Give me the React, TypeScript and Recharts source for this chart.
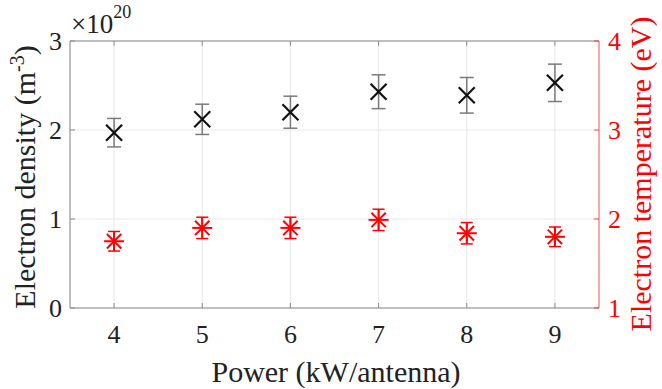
import React from 'react';
import { ComposedChart, Scatter, XAxis, YAxis, CartesianGrid, ErrorBar, Label, ReferenceLine } from 'recharts';

const powers = [4, 5, 6, 7, 8, 9];
const density = [1.97, 2.12, 2.2, 2.43, 2.39, 2.53];
const densityErr = [0.16, 0.17, 0.18, 0.19, 0.2, 0.21];
const temperature = [1.75, 1.9, 1.9, 1.99, 1.84, 1.8];
const temperatureErr = [0.11, 0.12, 0.12, 0.12, 0.12, 0.11];
const densityTicks = [0, 1, 2, 3];
const temperatureTicks = [1, 2, 3, 4];

const densityData = powers.map((p, i) => ({ x: p, y: density[i], e: densityErr[i] }));
const temperatureData = powers.map((p, i) => ({ x: p, y: temperature[i], e: temperatureErr[i] }));

const FONT = "'Liberation Serif', 'Times New Roman', serif";
const DARK = '#222222';
const AXIS = '#8a8a8a';
const RED = '#ff0000';
const DENSITY_MAX = densityTicks[densityTicks.length - 1];

const BottomTick = (props: any) => {
  const { x, y, payload } = props;
  return (
    <g>
      <line x1={x} y1={y} x2={x} y2={y - 5} stroke={AXIS} strokeWidth={1} />
      <text x={x} y={y + 35} textAnchor="middle" fontFamily={FONT} style={{ fontSize: 26 }} fill={DARK}>
        {payload.value}
      </text>
    </g>
  );
};

const LeftTick = (props: any) => {
  const { x, y, payload } = props;
  return (
    <g>
      <line x1={x} y1={y} x2={x + 5} y2={y} stroke={AXIS} strokeWidth={1} />
      <text x={x - 8} y={y + 9} textAnchor="end" fontFamily={FONT} style={{ fontSize: 26 }} fill={DARK}>
        {payload.value}
      </text>
    </g>
  );
};

const RightTick = (props: any) => {
  const { x, y, payload } = props;
  return (
    <g>
      <line x1={x} y1={y} x2={x - 5} y2={y} stroke={RED} strokeWidth={1} opacity={0.7} />
      <text x={x + 9} y={y + 9} textAnchor="start" fontFamily={FONT} style={{ fontSize: 26 }} fill={RED}>
        {payload.value}
      </text>
    </g>
  );
};

const XMark = (props: any) => {
  const { cx, cy } = props;
  const s = 8;
  return (
    <g stroke="#111" strokeWidth={2.2}>
      <line x1={cx - s} y1={cy - s} x2={cx + s} y2={cy + s} />
      <line x1={cx - s} y1={cy + s} x2={cx + s} y2={cy - s} />
    </g>
  );
};

const StarMark = (props: any) => {
  const { cx, cy } = props;
  const s = 10;
  const d = 7.2;
  return (
    <g stroke={RED} strokeWidth={2}>
      <line x1={cx - s} y1={cy} x2={cx + s} y2={cy} />
      <line x1={cx} y1={cy - s} x2={cx} y2={cy + s} />
      <line x1={cx - d} y1={cy - d} x2={cx + d} y2={cy + d} />
      <line x1={cx - d} y1={cy + d} x2={cx + d} y2={cy - d} />
    </g>
  );
};

const xLabel = () => (
  <text x={336} y={382} textAnchor="middle" fontFamily={FONT} style={{ fontSize: 30 }} fill={DARK}>
    Power (kW/antenna)
  </text>
);

const leftLabel = () => (
  <text x={35} y={177} transform="rotate(-90, 35, 177)" textAnchor="middle" fontFamily={FONT} style={{ fontSize: 30 }} fill={DARK}>
    <tspan>Electron density (m</tspan>
    <tspan dy={-11} style={{ fontSize: 20 }}>-3</tspan>
    <tspan dy={11}>)</tspan>
  </text>
);

const rightLabel = () => (
  <text x={651} y={174} transform="rotate(-90, 651, 174)" textAnchor="middle" fontFamily={FONT} style={{ fontSize: 30 }} fill={RED}>
    Electron temperature (eV)
  </text>
);

const scaleLabel = () => (
  <text x={71} y={33} fontFamily={FONT} fill={DARK} style={{ fontSize: 27 }}>
    <tspan>×10</tspan>
    <tspan dy={-15} style={{ fontSize: 18 }}>20</tspan>
  </text>
);

export default function App() {
  return (
    <div style={{ position: 'absolute', left: 0, top: 0, width: 662, height: 389, background: '#fff' }}>
      <ComposedChart width={662} height={389} margin={{ top: 41, right: 0, bottom: 0, left: 0 }}>
        <CartesianGrid xAxisId="b" yAxisId="l" stroke="#e8e8e8" strokeWidth={1} />
        <XAxis
          xAxisId="b"
          type="number"
          dataKey="x"
          domain={[3.5, 9.5]}
          ticks={powers}
          height={81}
          axisLine={{ stroke: AXIS, strokeWidth: 1 }}
          tickLine={false}
          tickSize={0}
          tickMargin={0}
          tick={BottomTick}
          allowDataOverflow
        >
          <Label content={xLabel} />
        </XAxis>
        <YAxis
          yAxisId="l"
          type="number"
          dataKey="y"
          domain={[0, 3]}
          ticks={densityTicks}
          width={70}
          axisLine={{ stroke: AXIS, strokeWidth: 1 }}
          tickLine={false}
          tickSize={0}
          tickMargin={0}
          tick={LeftTick}
          allowDataOverflow
        >
          <Label content={leftLabel} />
          <Label content={scaleLabel} />
        </YAxis>
        <YAxis
          yAxisId="r"
          orientation="right"
          type="number"
          dataKey="y"
          domain={[1, 4]}
          ticks={temperatureTicks}
          width={63}
          axisLine={{ stroke: '#ff5a5a', strokeWidth: 1 }}
          tickLine={false}
          tickSize={0}
          tickMargin={0}
          tick={RightTick}
          allowDataOverflow
        >
          <Label content={rightLabel} />
        </YAxis>
        <ReferenceLine xAxisId="b" yAxisId="l" y={DENSITY_MAX} stroke={AXIS} strokeWidth={1} ifOverflow="extendDomain" />
        {powers.map((p) => (
          <ReferenceLine
            key={'tt' + p}
            xAxisId="b"
            yAxisId="l"
            segment={[{ x: p, y: DENSITY_MAX }, { x: p, y: DENSITY_MAX - 0.055 }]}
            stroke={AXIS}
            strokeWidth={1}
          />
        ))}
        <Scatter data={densityData} xAxisId="b" yAxisId="l" dataKey="y" shape={XMark} isAnimationActive={false}>
          <ErrorBar dataKey="e" direction="y" width={7} stroke="#7a7a7a" strokeWidth={1.5} isAnimationActive={false} />
        </Scatter>
        <Scatter data={temperatureData} xAxisId="b" yAxisId="r" dataKey="y" shape={StarMark} isAnimationActive={false}>
          <ErrorBar dataKey="e" direction="y" width={6} stroke={RED} strokeWidth={1.5} isAnimationActive={false} />
        </Scatter>
      </ComposedChart>
    </div>
  );
}
